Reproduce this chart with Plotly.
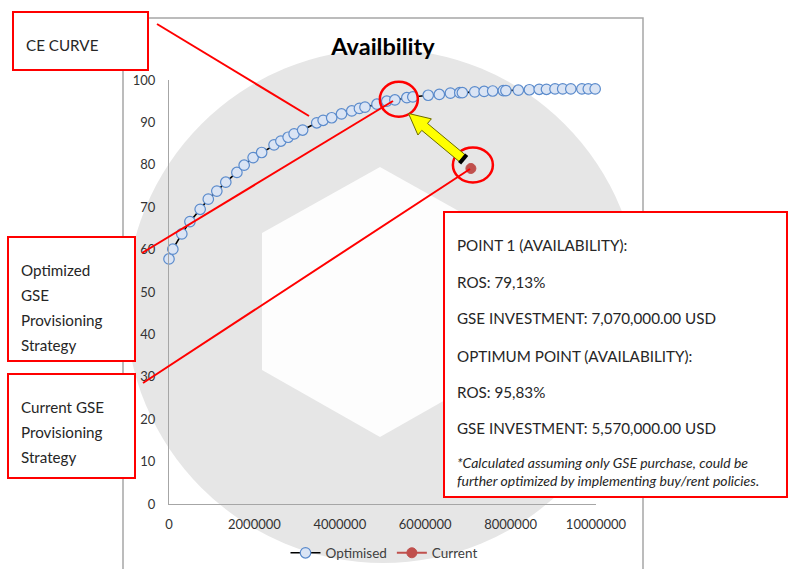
import plotly.graph_objects as go

# ---------------- data ----------------
opt_x = [0, 90000, 300000, 490000, 730000, 920000, 1120000, 1330000, 1590000, 1760000,
         1970000, 2170000, 2460000, 2620000, 2790000, 2930000, 3130000, 3460000, 3610000, 3810000,
         4040000, 4280000, 4460000, 4590000, 4870000, 5100000, 5290000, 5570000, 5710000, 6070000,
         6330000, 6590000, 6810000, 6870000, 7160000, 7380000, 7580000, 7830000, 7890000, 8180000,
         8440000, 8670000, 8840000, 9040000, 9220000, 9410000, 9670000, 9820000, 9980000]
opt_y = [57.8, 60.1, 63.7, 66.6, 69.5, 71.9, 73.8, 75.9, 78.2, 79.9,
         81.7, 82.9, 84.7, 85.6, 86.5, 87.3, 88.2, 89.9, 90.5, 91.1,
         92.0, 92.7, 93.3, 93.6, 94.3, 95.0, 95.3, 95.83, 96.0, 96.4,
         96.6, 96.9, 97.0, 97.0, 97.2, 97.3, 97.4, 97.5, 97.5, 97.6,
         97.7, 97.8, 97.8, 97.9, 97.9, 97.9, 97.9, 97.9, 97.9]
cur_x = [7070000]
cur_y = [79.13]
optimum_x, optimum_y = 5570000, 95.83

x_ticks = [0, 2000000, 4000000, 6000000, 8000000, 10000000]
x_tick_labels = ["0", "2000000", "4000000", "6000000", "8000000", "10000000"]
y_ticks = [0, 10, 20, 30, 40, 50, 60, 70, 80, 90, 100]

title_text = "Availbility"
info_lines = ["POINT 1 (AVAILABILITY):", "ROS: 79,13%", "GSE INVESTMENT: 7,070,000.00 USD",
              "OPTIMUM POINT (AVAILABILITY):", "ROS: 95,83%", "GSE INVESTMENT: 5,570,000.00 USD"]
note_lines = ["*Calculated assuming only GSE purchase, could be",
              "further optimized by implementing buy/rent policies."]
opt_box_lines = ["Optimized", "GSE", "Provisioning", "Strategy"]
cur_box_lines = ["Current GSE", "Provisioning", "Strategy"]

# ---------------- layout helpers (pixel -> paper) ----------------
W, H = 789, 569
def px(x):
    return x / W
def py(y):
    return 1 - y / H

FONT = "Lato, 'Open Sans', sans-serif"
RED = "#ff0000"
TXT = "#262626"

fig = go.Figure()
fig.add_trace(go.Scatter(
    x=opt_x, y=opt_y, mode="lines+markers", name="Optimised",
    line=dict(color="black", width=1.6),
    marker=dict(symbol="circle", size=10.5, color="#dae4f4",
                line=dict(color="#5b8bcc", width=1.2)),
    cliponaxis=False,
))
fig.add_trace(go.Scatter(
    x=cur_x, y=cur_y, mode="lines+markers", name="Current",
    line=dict(color="#c0504d", width=2),
    marker=dict(symbol="circle", size=10, color="#c0504d",
                line=dict(color="#c0504d", width=1)),
    cliponaxis=False,
))

shapes = []
# watermark disc
cx, cy, r = 383, 306, 257
shapes.append(dict(type="circle", xref="paper", yref="paper", layer="below",
                   x0=px(cx - r), x1=px(cx + r), y0=py(cy + r), y1=py(cy - r),
                   fillcolor="#e6e6e6", line=dict(width=0)))
hexv = [(380, 167), (498, 233), (498, 370), (380, 437), (262, 370), (262, 233)]
path = "M " + " L ".join(f"{px(a):.5f},{py(b):.5f}" for a, b in hexv) + " Z"
shapes.append(dict(type="path", xref="paper", yref="paper", layer="below", path=path,
                   fillcolor="#fdfdfd", line=dict(width=0)))
# chart frame
shapes.append(dict(type="rect", xref="paper", yref="paper", layer="below",
                   x0=px(123), x1=px(643), y0=py(590), y1=py(18),
                   line=dict(color="#a6a6a6", width=1.5), fillcolor="rgba(0,0,0,0)"))

# callout boxes
def box(x0, y0, x1, y1):
    shapes.append(dict(type="rect", xref="paper", yref="paper", layer="above",
                       x0=px(x0), x1=px(x1), y0=py(y1), y1=py(y0),
                       line=dict(color=RED, width=2), fillcolor="white"))
box(13, 12, 148, 70)
box(8, 237, 135, 361)
box(8, 374, 135, 478)
box(444, 212, 787, 497)

def seg(x0, y0, x1, y1, color=RED, width=2):
    shapes.append(dict(type="line", xref="paper", yref="paper", layer="above",
                       x0=px(x0), y0=py(y0), x1=px(x1), y1=py(y1),
                       line=dict(color=color, width=width)))
seg(157, 24, 309, 116)
seg(142, 253, 393, 101)
seg(143, 383, 470, 169)

# red circles anchored to data points
shapes.append(dict(type="circle", xref="x", yref="y", xsizemode="pixel", ysizemode="pixel",
                   xanchor=optimum_x, yanchor=optimum_y, x0=-27, x1=11, y0=-19, y1=16,
                   line=dict(color=RED, width=2.5), layer="above"))
shapes.append(dict(type="circle", xref="x", yref="y", xsizemode="pixel", ysizemode="pixel",
                   xanchor=cur_x[0], yanchor=cur_y[0], x0=-18, x1=22, y0=-14, y1=21,
                   line=dict(color=RED, width=2.5), layer="above"))

# yellow arrow
tail = (462.0, 158.0)
tip = (408.5, 113.5)
dx, dy = tip[0] - tail[0], tip[1] - tail[1]
L = (dx * dx + dy * dy) ** 0.5
ux, uy = dx / L, dy / L
nx, ny = -uy, ux
sw, hw, hl = 4.5, 10.5, 21
neck = (tip[0] - ux * hl, tip[1] - uy * hl)
pts = [
    (tail[0] + nx * sw, tail[1] + ny * sw),
    (neck[0] + nx * sw, neck[1] + ny * sw),
    (neck[0] + nx * hw, neck[1] + ny * hw),
    tip,
    (neck[0] - nx * hw, neck[1] - ny * hw),
    (neck[0] - nx * sw, neck[1] - ny * sw),
    (tail[0] - nx * sw, tail[1] - ny * sw),
]
apath = "M " + " L ".join(f"{px(a):.5f},{py(b):.5f}" for a, b in pts) + " Z"
shapes.append(dict(type="path", xref="paper", yref="paper", layer="above", path=apath,
                   fillcolor="#ffff00", line=dict(color="#6b6b00", width=1)))
cap_a = (tail[0] + nx * 5.5 - ux * 1.5, tail[1] + ny * 5.5 - uy * 1.5)
cap_b = (tail[0] - nx * 5.5 - ux * 1.5, tail[1] - ny * 5.5 - uy * 1.5)
seg(cap_a[0], cap_a[1], cap_b[0], cap_b[1], color="black", width=4)

annotations = []
def txt(x, y, s, size=15.2, italic=False, color=TXT):
    annotations.append(dict(xref="paper", yref="paper", x=px(x), y=py(y), text=s,
                            showarrow=False, xanchor="left", yanchor="middle",
                            font=dict(family=FONT, size=size, color=color,
                                      style="italic" if italic else "normal")))
txt(24, 45, "CE CURVE")
for s, y in zip(opt_box_lines, [270, 295, 320, 345]):
    txt(19, y, s)
for s, y in zip(cur_box_lines, [407, 432, 457]):
    txt(19, y, s)
for s, y in zip(info_lines, [245, 282, 318, 356, 392, 428]):
    txt(455, y, s)
for s, y in zip(note_lines, [462, 480]):
    txt(455, y, s, size=14, italic=True)

fig.update_layout(
    width=W, height=H, margin=dict(l=0, r=0, t=0, b=0, pad=0, autoexpand=False),
    paper_bgcolor="white", plot_bgcolor="rgba(0,0,0,0)",
    title=dict(text=f"<b>{title_text}</b>", x=px(383), y=py(47), xanchor="center",
               yanchor="middle", xref="paper", yref="paper",
               font=dict(family=FONT, size=23.5, color="black")),
    shapes=shapes, annotations=annotations,
    showlegend=True,
    legend=dict(orientation="h", x=px(384), y=py(553), xanchor="center", yanchor="middle",
                font=dict(family=FONT, size=13.5, color="#404040"), itemwidth=30,
                bgcolor="rgba(0,0,0,0)", traceorder="normal"),
    xaxis=dict(domain=[px(169), px(596)], range=[0, 10000000], tickvals=x_ticks,
               ticktext=x_tick_labels, showgrid=False, zeroline=False, showline=True,
               linecolor="#a6a6a6", linewidth=1, ticks="", ticklabelstandoff=8,
               automargin=False,
               tickfont=dict(family=FONT, size=13, color="#333333")),
    yaxis=dict(domain=[py(504), py(80)], range=[0, 100], tickvals=y_ticks,
               showgrid=False, zeroline=False, showline=True, automargin=False,
               linecolor="#a6a6a6", linewidth=1, ticks="", ticklabelstandoff=10,
               tickfont=dict(family=FONT, size=13, color="#333333")),
)

fig.write_html("out.html", config={"displayModeBar": False},
               post_script="document.body.style.margin='0px';")
